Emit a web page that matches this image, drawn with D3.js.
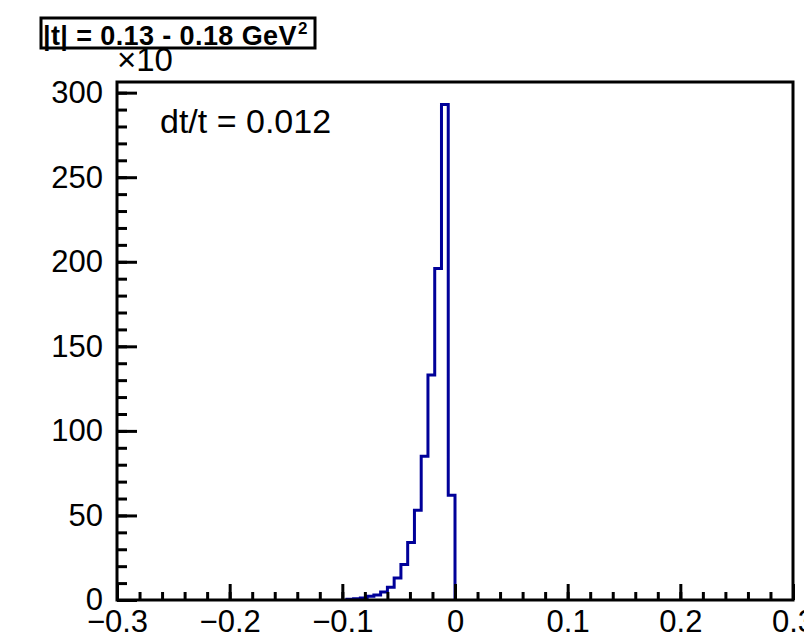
<!DOCTYPE html>
<html>
<head>
<meta charset="utf-8">
<script src="https://cdn.jsdelivr.net/npm/d3@7"></script>
<style>
  body { margin: 0; background: #fff; }
  svg { display: block; }
  text { font-family: "Liberation Sans", Arial, Helvetica, sans-serif; }
</style>
</head>
<body>
<div id="chart"></div>
<script>
// Histogram data: left edge of each non-empty bin and its content
const binWidth = 0.006;
const binLeft = [-0.096, -0.090, -0.084, -0.078, -0.072, -0.066, -0.060, -0.054,
                 -0.048, -0.042, -0.036, -0.030, -0.024, -0.018, -0.012, -0.006];
const counts = [0.4, 0.8, 1.2, 2.2, 3.0, 4.8, 7.5, 13,
                21, 34, 53, 85, 133, 196, 293, 62];

const xMajor = [-0.3, -0.2, -0.1, 0, 0.1, 0.2, 0.3];
const yMajor = [0, 50, 100, 150, 200, 250, 300];

const titleText = "|t| = 0.13 - 0.18 GeV";
const noteText = "dt/t = 0.012";

const width = 804, height = 638;
const frame = { left: 117, right: 793, top: 82, bottom: 600 };

const svg = d3.select("#chart")
  .append("svg")
  .attr("width", width)
  .attr("height", height);

// Scales
const x = d3.scaleLinear().domain([-0.3, 0.3]).range([frame.left, frame.right]);
const y = d3.scaleLinear().domain([0, 306.3]).range([frame.bottom, frame.top]);

// Minor ticks
const xMinor = d3.range(-0.3, 0.3001, 0.02).map(d => +d.toFixed(3));
const yMinor = d3.range(0, 306, 10);

// Histogram outline
const pts = [[binLeft[0], 0]];
binLeft.forEach((b, i) => pts.push([b, counts[i]]));
pts.push([binLeft[binLeft.length - 1] + binWidth, 0]);

const line = d3.line()
  .x(d => x(d[0]))
  .y(d => y(d[1]))
  .curve(d3.curveStepAfter);

svg.append("path")
  .datum(pts)
  .attr("fill", "none")
  .attr("stroke", "#000099")
  .attr("stroke-width", 3)
  .attr("d", line);

// Axes
const fmtX = d => d === 0 ? "0" : d3.format(".1f")(d);

svg.append("g")
  .attr("transform", `translate(0,${frame.bottom})`)
  .call(d3.axisBottom(x).tickValues(xMinor).tickSize(-8).tickFormat(""))
  .call(g => g.select(".domain").remove())
  .call(g => g.selectAll("line").attr("stroke", "#000").attr("stroke-width", 3));

svg.append("g")
  .attr("transform", `translate(0,${frame.bottom})`)
  .call(d3.axisBottom(x).tickValues(xMajor).tickSize(-16).tickPadding(10).tickFormat(fmtX))
  .call(g => g.select(".domain").remove())
  .call(g => g.selectAll("line").attr("stroke", "#000").attr("stroke-width", 3))
  .call(g => g.selectAll("text").attr("fill", "#000").style("font-size", "31px"));

svg.append("g")
  .attr("transform", `translate(${frame.left},0)`)
  .call(d3.axisLeft(y).tickValues(yMinor).tickSize(-10).tickFormat(""))
  .call(g => g.select(".domain").remove())
  .call(g => g.selectAll("line").attr("stroke", "#000").attr("stroke-width", 3));

svg.append("g")
  .attr("transform", `translate(${frame.left},0)`)
  .call(d3.axisLeft(y).tickValues(yMajor).tickSize(-20).tickPadding(14).tickFormat(d3.format("d")))
  .call(g => g.select(".domain").remove())
  .call(g => g.selectAll("line").attr("stroke", "#000").attr("stroke-width", 3))
  .call(g => g.selectAll("text").attr("fill", "#000").style("font-size", "31px"));

// Frame
svg.append("rect")
  .attr("x", frame.left)
  .attr("y", frame.top)
  .attr("width", frame.right - frame.left)
  .attr("height", frame.bottom - frame.top)
  .attr("fill", "none")
  .attr("stroke", "#000")
  .attr("stroke-width", 3);

// Exponent label
svg.append("text")
  .attr("x", 117)
  .attr("y", 71)
  .style("font-size", "33px")
  .text("×10");

// Annotation
svg.append("text")
  .attr("x", 160)
  .attr("y", 133)
  .style("font-size", "34px")
  .text(noteText);

// Title box
svg.append("rect")
  .attr("x", 41)
  .attr("y", 18)
  .attr("width", 274)
  .attr("height", 30)
  .attr("fill", "#fff")
  .attr("stroke", "#000")
  .attr("stroke-width", 3);

const title = svg.append("text")
  .attr("x", 43)
  .attr("y", 45)
  .style("font-size", "27px")
  .style("font-weight", "bold")
  .style("letter-spacing", "0.4px");
title.append("tspan").text(titleText);
title.append("tspan")
  .attr("dy", -11)
  .attr("dx", 1)
  .style("font-size", "17px")
  .text("2");
</script>
</body>
</html>
